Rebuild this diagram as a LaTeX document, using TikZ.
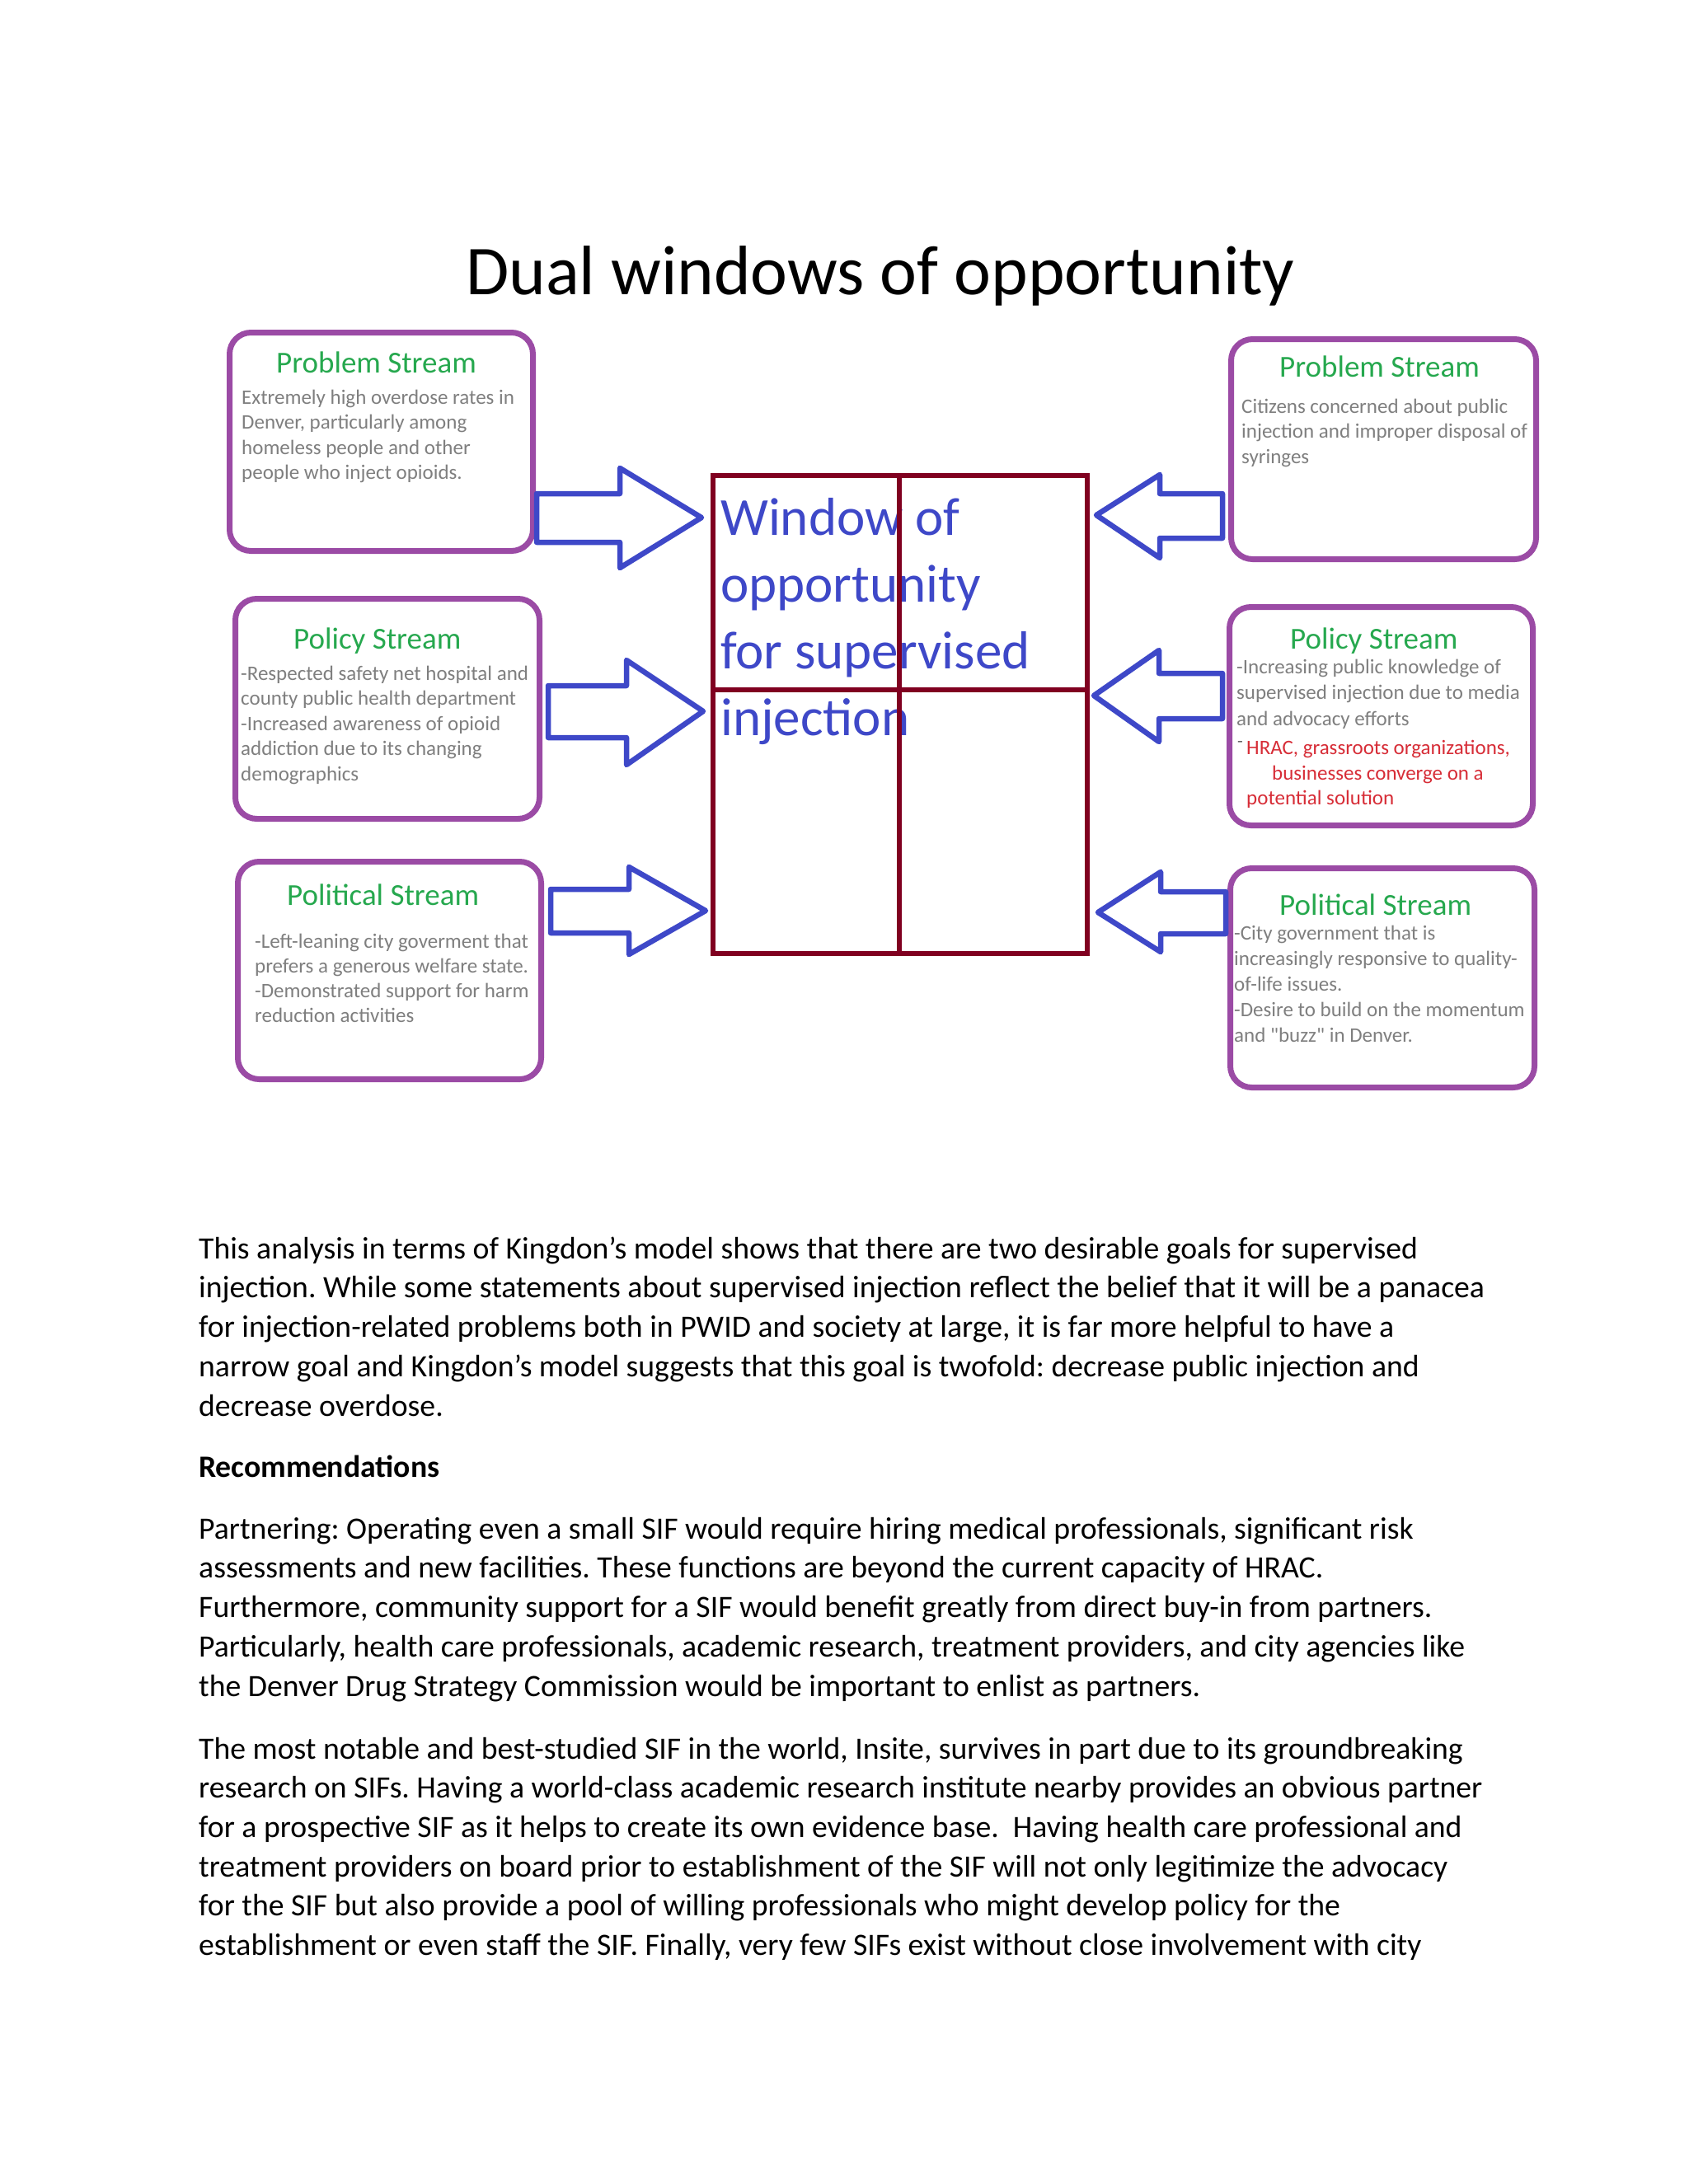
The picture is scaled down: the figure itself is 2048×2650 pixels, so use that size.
\documentclass[tikz,border=0pt]{standalone}
\usepackage{fontspec}
\setmainfont{Carlito}[Ligatures=TeXOff]
\definecolor{boxpurple}{RGB}{155,75,165}
\definecolor{ttlgreen}{RGB}{38,168,78}
\definecolor{bodygray}{RGB}{127,127,127}
\definecolor{arrowblue}{RGB}{62,72,200}
\definecolor{winred}{RGB}{128,0,32}
\definecolor{hracred}{RGB}{215,45,55}
\newcommand\linesat[2]{\vtop{\baselineskip=#1\lineskiplimit=-\maxdimen\lineskip=0pt #2}}
\frenchspacing
\tikzset{
  streambox/.style={rectangle, draw=boxpurple, line width=7pt, rounded corners=26pt, fill=white, inner sep=0pt},
  ttl/.style={anchor=base west, inner sep=0pt, text=ttlgreen, font=\fontsize{37}{45}\selectfont},
  bodytxt/.style={anchor=base west, inner sep=0pt, text=bodygray, font=\fontsize{25}{30.5}\selectfont},
  redtxt/.style={anchor=base west, inner sep=0pt, text=hracred, font=\fontsize{25}{30.5}\selectfont},
  blockarrow/.style={draw=arrowblue, line width=6.5pt, line join=round, fill=white},
  para/.style={anchor=base west, inner sep=0pt, font=\fontsize{37.7}{47.7}\selectfont},
  wingrid/.style={draw=winred, line width=6.5pt},
}
\begin{document}
\begin{tikzpicture}[x=1pt,y=-1pt]
\useasboundingbox[fill=white] (0,0) rectangle (2048,2650);

% title
\node[anchor=base west, inner sep=0pt, font=\fontsize{85}{100}\selectfont] (title) at (565,357) {Dual windows of opportunity};

% left boxes
\node[streambox, minimum width=368pt, minimum height=265pt] (lprob) at (462.5,536) {};
\node[streambox, minimum width=369pt, minimum height=267pt] (lpol) at (470,860) {};
\node[streambox, minimum width=368pt, minimum height=264pt] (lpolit) at (472.5,1177.5) {};
% right boxes
\node[streambox, minimum width=370pt, minimum height=267pt] (rprob) at (1678.5,545) {};
\node[streambox, minimum width=368pt, minimum height=265pt] (rpol) at (1675.5,869) {};
\node[streambox, minimum width=369pt, minimum height=266pt] (rpolit) at (1677,1186.5) {};

% left texts
\node[ttl] (lprobT) at (335,452) {Problem Stream};
\node[bodytxt] (lprobB) at (293,490) {\linesat{30.5pt}{\hbox{Extremely high overdose rates in}\hbox{Denver, particularly among}\hbox{homeless people and other}\hbox{people who inject opioids.}}};
\node[ttl] (lpolT) at (356,787) {Policy Stream};
\node[bodytxt] (lpolB) at (292,825) {\linesat{30.5pt}{\hbox{-Respected safety net hospital and}\hbox{county public health department}\hbox{-Increased awareness of opioid}\hbox{addiction due to its changing}\hbox{demographics}}};
\node[ttl] (lpolitT) at (348,1098) {Political Stream};
\node[bodytxt] (lpolitB) at (309,1150) {\linesat{30.2pt}{\hbox{-Left-leaning city goverment that}\hbox{prefers a generous welfare state.}\hbox{-Demonstrated support for harm}\hbox{reduction activities}}};

% right texts
\node[ttl] (rprobT) at (1552,457) {Problem Stream};
\node[bodytxt] (rprobB) at (1506,501) {\linesat{30.5pt}{\hbox{Citizens concerned about public}\hbox{injection and improper disposal of}\hbox{syringes}}};
\node[ttl] (rpolT) at (1565,787) {Policy Stream};
\node[bodytxt] (rpolB) at (1500,817) {\linesat{31.5pt}{\hbox{-Increasing public knowledge of}\hbox{supervised injection due to media}\hbox{and advocacy efforts}}};
\node[anchor=base west, inner sep=0pt, text=bodygray!80!black, font=\fontsize{22}{24}\selectfont] (rpolDash) at (1501,906) {-};
\node[redtxt] (rpolR1) at (1512,915) {HRAC, grassroots organizations,};
\node[redtxt] (rpolR2) at (1543,946) {businesses converge on a};
\node[redtxt] (rpolR3) at (1512,976) {potential solution};
\node[ttl] (rpolitT) at (1552,1110) {Political Stream};
\node[bodytxt] (rpolitB) at (1497,1140) {\linesat{31pt}{\hbox{-City government that is}\hbox{increasingly responsive to quality-}\hbox{of-life issues.}\hbox{-Desire to build on the momentum}\hbox{and "buzz" in Denver.}}};

% window text
\node[anchor=base west, inner sep=0pt, text=arrowblue, font=\fontsize{65}{81}\selectfont] (wintxt) at (874,649) {\linesat{81.3pt}{\hbox{Window of}\hbox{opportunity}\hbox{for supervised}\hbox{injection}}};

% window grid
\node[rectangle, wingrid, minimum width=454pt, minimum height=580pt, inner sep=0pt] (win) at (1092,867) {};
\coordinate (vdiv) at (1091,0);
\coordinate (hdiv) at (0,837);
\draw[wingrid] (win.north -| vdiv) -- (win.south -| vdiv);
\draw[wingrid] (win.west |- hdiv) -- (win.east |- hdiv);

% left arrows
\draw[blockarrow] (651,599) -- (752,599) -- (752,568) -- (851,628) -- (752,689) -- (752,658) -- (651,658) -- cycle;
\draw[blockarrow] (665,832) -- (760,832) -- (760,801) -- (853,863) -- (760,928) -- (760,895) -- (665,895) -- cycle;
\draw[blockarrow] (668,1079) -- (763,1079) -- (763,1052) -- (856,1105) -- (763,1158) -- (763,1132) -- (668,1132) -- cycle;
% right arrows
\draw[blockarrow] (1483,599) -- (1407,599) -- (1407,576) -- (1330,625) -- (1407,677) -- (1407,653) -- (1483,653) -- cycle;
\draw[blockarrow] (1483,817) -- (1406,817) -- (1406,789) -- (1327,844) -- (1406,900) -- (1406,872) -- (1483,872) -- cycle;
\draw[blockarrow] (1487,1082) -- (1408,1082) -- (1408,1058) -- (1332,1107) -- (1408,1155) -- (1408,1133) -- (1487,1133) -- cycle;

% body text
\node[para] (p1) at (241,1527) {\linesat{47.8pt}{%
\hbox{This analysis in terms of Kingdon’s model shows that there are two desirable goals for supervised}%
\hbox{injection. While some statements about supervised injection reflect the belief that it will be a panacea}%
\hbox{for injection-related problems both in PWID and society at large, it is far more helpful to have a}%
\hbox{narrow goal and Kingdon’s model suggests that this goal is twofold: decrease public injection and}%
\hbox{decrease overdose.}}};
\node[para, font=\fontsize{37.7}{47.7}\selectfont\bfseries] (rec) at (241,1792) {Recommendations};
\node[para] (p2) at (241,1867) {\linesat{47.9pt}{%
\hbox{Partnering: Operating even a small SIF would require hiring medical professionals, significant risk}%
\hbox{assessments and new facilities. These functions are beyond the current capacity of HRAC.}%
\hbox{Furthermore, community support for a SIF would benefit greatly from direct buy-in from partners.}%
\hbox{Particularly, health care professionals, academic research, treatment providers, and city agencies like}%
\hbox{the Denver Drug Strategy Commission would be important to enlist as partners.}}};
\node[para] (p3) at (241,2134) {\linesat{47.7pt}{%
\hbox{The most notable and best-studied SIF in the world, Insite, survives in part due to its groundbreaking}%
\hbox{research on SIFs. Having a world-class academic research institute nearby provides an obvious partner}%
\hbox{for a prospective SIF as it helps to create its own evidence base.~ Having health care professional and}%
\hbox{treatment providers on board prior to establishment of the SIF will not only legitimize the advocacy}%
\hbox{for the SIF but also provide a pool of willing professionals who might develop policy for the}%
\hbox{establishment or even staff the SIF. Finally, very few SIFs exist without close involvement with city}}};
\end{tikzpicture}
\end{document}
